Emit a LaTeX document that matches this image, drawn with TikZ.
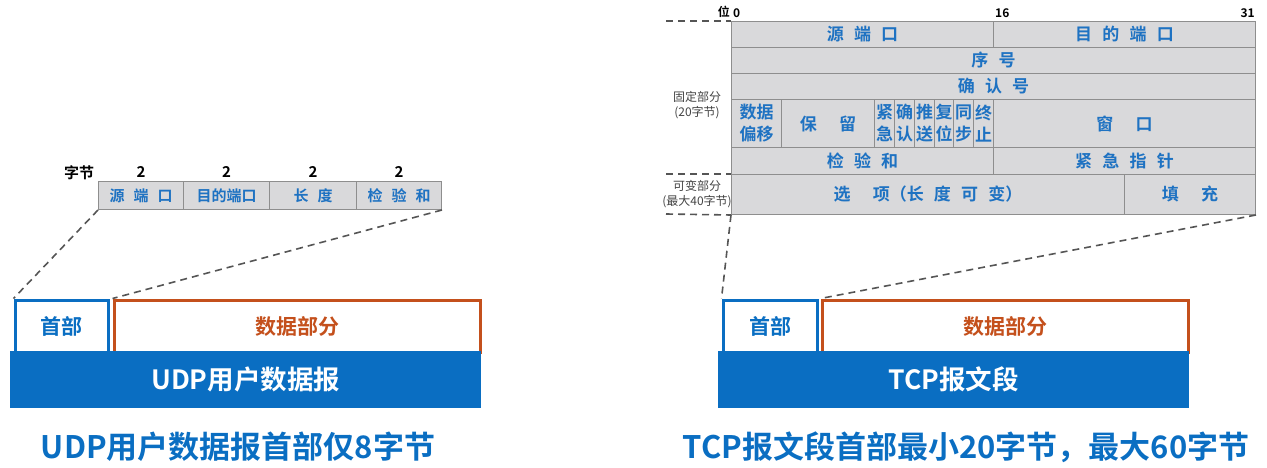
\documentclass[tikz,border=0pt]{standalone}
\usepackage{fontspec}
\setmainfont{Noto Sans CJK SC}[BoldFont={Noto Sans CJK SC Bold}]
\usetikzlibrary{positioning}
\definecolor{cellgray}{HTML}{D9D9DB}
\definecolor{gridgray}{HTML}{8E8E8E}
\definecolor{fieldblue}{HTML}{1E72C2}
\definecolor{headblue}{HTML}{0A6EC2}
\definecolor{dataorange}{HTML}{C4501C}
\definecolor{dashgray}{HTML}{555555}
\definecolor{notegray}{HTML}{444444}
\newcommand{\ssp}{\hspace{0.6em}}
\newcommand{\wsp}{\hspace{1.3em}}
% one field of a header table, given by its corners
\newcommand{\field}[6]{%
  \node[field, minimum width={(#4-#2)*1pt}, minimum height={(#5-#3)*1pt}] (#1) at (#2,#3) {#6};}
\tikzset{
  field/.style={draw=gridgray, fill=cellgray, line width=1pt, anchor=north west,
    inner sep=0pt, text=fieldblue, align=center},
  udpfield/.style={font=\fontsize{15}{18}\selectfont\bfseries},
  tcpfield/.style={font=\fontsize{17}{22}\selectfont\bfseries},
  guide/.style={draw=dashgray, line width=1.6pt, dash pattern=on 7pt off 5pt},
  headbox/.style={draw=headblue, line width=3pt, anchor=north west, inner sep=0pt,
    text=headblue, font=\fontsize{21}{24}\selectfont\bfseries},
  databox/.style={draw=dataorange, line width=3pt, anchor=north west, inner sep=0pt,
    text=dataorange, font=\fontsize{21}{24}\selectfont\bfseries},
  bar/.style={fill=headblue, anchor=north west, inner sep=0pt, text=white,
    font=\fontsize{26.5}{30}\selectfont\bfseries},
  title/.style={text=headblue, inner sep=0pt, font=\fontsize{31}{34}\selectfont\bfseries},
  bytes/.style={inner sep=1pt, font=\fontsize{15}{18}\selectfont\bfseries},
  bits/.style={inner sep=0pt, font=\fontsize{12}{14}\selectfont\bfseries},
  note/.style={inner sep=0pt, align=center, text=notegray, font=\fontsize{12}{15}\selectfont}
}
\begin{document}
\begin{tikzpicture}[x=1pt, y=-1pt]
\useasboundingbox (0,0) rectangle (1267,468);

% UDP header
\begin{scope}[every node/.append style={udpfield}]
\field{udpsrc}{98}{181}{183}{209}{源\ssp 端\ssp 口}
\field{udpdst}{183}{181}{269}{209}{目的端口}
\field{udplen}{269}{181}{356}{209}{长\ssp 度}
\field{udpsum}{356}{181}{441}{209}{检\ssp 验\ssp 和}
\end{scope}
\node[bytes, above=2pt of udpsrc] (udpb1) {2};
\node[bytes, above=2pt of udpdst] (udpb2) {2};
\node[bytes, above=2pt of udplen] (udpb3) {2};
\node[bytes, above=2pt of udpsum] (udpb4) {2};
\node[bytes, left=40pt of udpb1] (udpunit) {字节};

\node[headbox, minimum width=93, minimum height=52] (udphead) at (13.5,298.5) {首部};
\node[databox, minimum width=366, minimum height=52] (udpdata) at (112.5,298.5) {数据部分};
\node[bar, minimum width=471, minimum height=57] (udpbar) at (10,351) {UDP用户数据报};
\draw[guide] (udpsrc.south west) -- (udphead.north west);
\draw[guide] (udpsum.south east) -- (udpdata.north west);
\node[title] (udptitle) at (238,447) {UDP用户数据报首部仅8字节};

% TCP header
\begin{scope}[every node/.append style={tcpfield}]
\field{tcpsrc}{731}{21}{993}{47}{源\ssp 端\ssp 口}
\field{tcpdst}{993}{21}{1255}{47}{目\ssp 的\ssp 端\ssp 口}
\field{tcpseq}{731}{47}{1255}{73}{序\ssp 号}
\field{tcpack}{731}{73}{1255}{99}{确\ssp 认\ssp 号}
\field{tcpoff}{731}{99}{781}{147}{数据\\偏移}
\field{tcpres}{781}{99}{874}{147}{保\wsp 留}
\field{tcpurg}{874}{99}{894}{147}{紧\\急}
\field{tcpackf}{894}{99}{914}{147}{确\\认}
\field{tcppsh}{914}{99}{934}{147}{推\\送}
\field{tcprst}{934}{99}{953}{147}{复\\位}
\field{tcpsyn}{953}{99}{973}{147}{同\\步}
\field{tcpfin}{973}{99}{993}{147}{终\\止}
\field{tcpwin}{993}{99}{1255}{147}{窗\wsp 口}
\field{tcpsum}{731}{147}{993}{174}{检\ssp 验\ssp 和}
\field{tcpptr}{993}{147}{1255}{174}{紧\ssp 急\ssp 指\ssp 针}
\field{tcpopt}{731}{174}{1124}{214}{选\wsp 项（长\ssp 度\ssp 可\ssp 变）}
\field{tcppad}{1124}{174}{1255}{214}{填\wsp 充}
\end{scope}
\node[bits, anchor=south west] (bit0) at (733,18) {0};
\node[bits, anchor=south east] (bitunit) at (730,18) {位};
\node[bits, anchor=south west] (bit16) at (995,18) {16};
\node[bits, anchor=south east] (bit31) at (1255,18) {31};

\coordinate (bitmark) at (666,21);
\coordinate (fixmark) at (666,174);
\coordinate (varmark) at (666,214);
\draw[guide] (bitmark) -- (tcpsrc.north west);
\draw[guide] (fixmark) -- (tcpopt.north west);
\draw[guide] (varmark) -- (tcpopt.south west);
\node[note] (fixnote) at (697,105) {固定部分\\(20字节)};
\node[note] (varnote) at (697,194) {可变部分\\(最大40字节)};

\node[headbox, minimum width=94, minimum height=52] (tcphead) at (721.5,298.5) {首部};
\node[databox, minimum width=366, minimum height=52] (tcpdata) at (820.5,298.5) {数据部分};
\node[bar, minimum width=471, minimum height=57] (tcpbar) at (718,351) {TCP报文段};
\draw[guide] (tcpopt.south west) -- (tcphead.north west);
\draw[guide] (tcppad.south east) -- (tcpdata.north west);
\node[title] (tcptitle) at (966,447) {TCP报文段首部最小20字节，最大60字节};
\end{tikzpicture}
\end{document}
